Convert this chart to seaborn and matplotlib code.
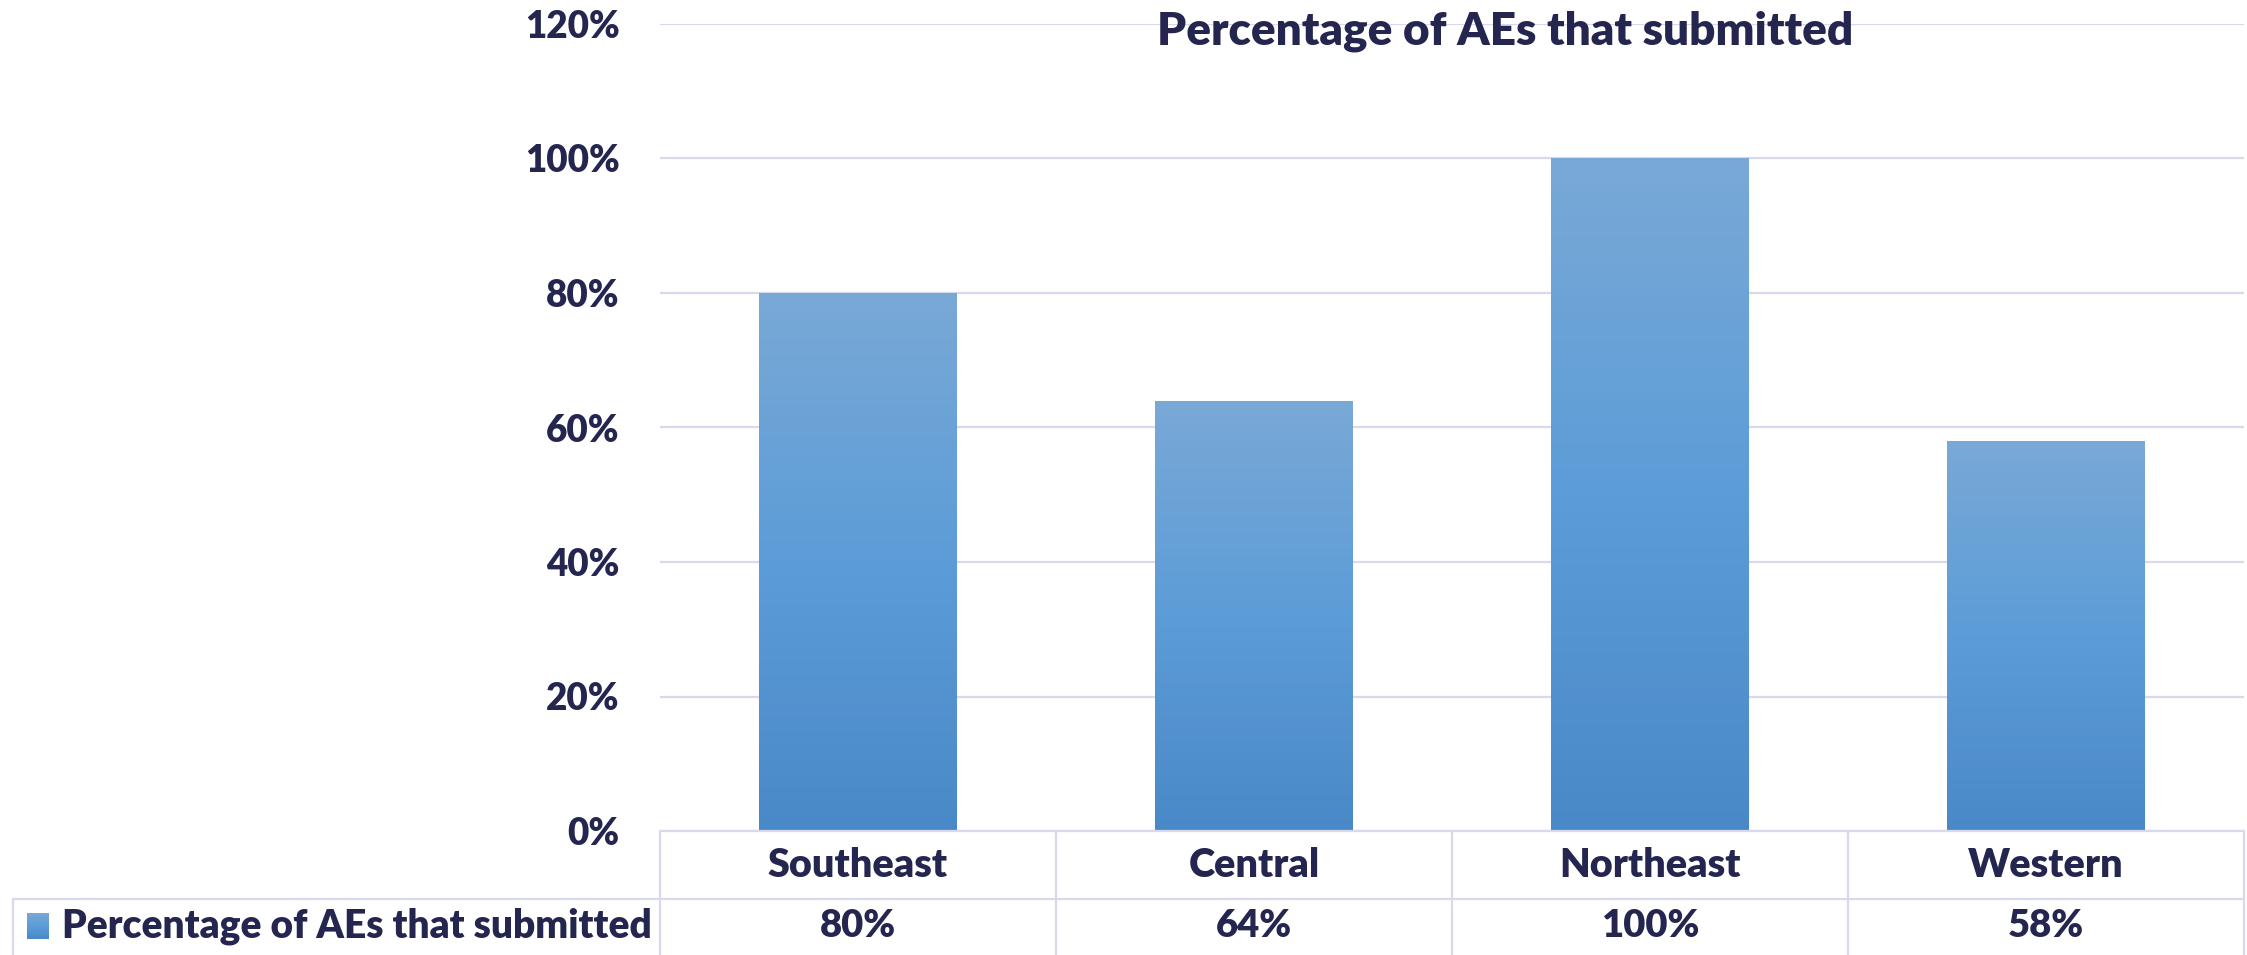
import numpy as np
import pandas as pd
import seaborn as sns
from matplotlib import pyplot as plt
from matplotlib import transforms
from matplotlib.lines import Line2D
from matplotlib.colors import LinearSegmentedColormap
from matplotlib.ticker import PercentFormatter

# data
regions = ['Southeast', 'Central', 'Northeast', 'Western']
submitted = [0.80, 0.64, 1.00, 0.58]
submitted_labels = ['80%', '64%', '100%', '58%']
series_name = 'Percentage of AEs that submitted'
y_ticks = [0, 0.2, 0.4, 0.6, 0.8, 1.0, 1.2]

W, H = 2247, 955
TEXT = '#24264f'
GRID = '#d9d9ee'
FONT = ['Lato', 'Open Sans', 'DejaVu Sans']

sns.set_style('white')
plt.rcParams['font.family'] = FONT
plt.rcParams['font.weight'] = 'heavy'

# excel style gradient, dark at the bottom, light at the top
grad_cmap = LinearSegmentedColormap.from_list('bar', ['#4a89c7', '#5c9cd8', '#79a9d6'])
grad = np.linspace(0, 1, 256).reshape(-1, 1)

df = pd.DataFrame({'Region': regions, 'Value': submitted})

fig = plt.figure(figsize=(W / 100, H / 100), dpi=100)
ax = fig.add_axes([660 / W, 1 - 831 / H, (2244 - 660) / W, (831 - 24) / H])

sns.barplot(data=df, x='Region', y='Value', color='#5b9bd5', width=0.5, ax=ax, zorder=3)

# paint the gradient into each bar
for p in ax.patches:
    x, y = p.get_x(), p.get_y()
    w, h = p.get_width(), p.get_height()
    im = ax.imshow(grad, extent=[x, x + w, y, y + h], origin='lower', aspect='auto',
                   cmap=grad_cmap, zorder=3)
    im.set_clip_path(p)
    p.set_facecolor('none')
    p.set_edgecolor('none')

ax.set_xlim(-0.5, len(regions) - 0.5)
ax.set_ylim(0, 1.2)
ax.set_yticks(y_ticks)
ax.yaxis.set_major_formatter(PercentFormatter(1.0, decimals=0))
ax.tick_params(axis='y', length=0, pad=29, labelsize=26.5, labelcolor=TEXT)
for t in ax.get_yticklabels():
    t.set_fontweight('heavy')
ax.set_xticks([])
ax.set_xlabel('')
ax.set_ylabel('')
ax.grid(axis='y', color=GRID, lw=1.6, zorder=0)
ax.set_axisbelow(True)
for s in ax.spines.values():
    s.set_visible(False)

# title sits inside the plot area, over the top gridline
fig.text(1505 / W, 1 - 31 / H, series_name, ha='center', va='center',
         fontsize=33, color=TEXT, fontweight='heavy')

# data table under the chart
bt = transforms.blended_transform_factory(ax.transData, fig.transFigure)
row1 = 1 - 831 / H
row2 = 1 - 899 / H
for i, (r, v) in enumerate(zip(regions, submitted_labels)):
    ax.text(i, 1 - 865 / H, r, transform=bt, ha='center', va='center',
            fontsize=28.5, color=TEXT, fontweight='heavy', clip_on=False)
    ax.text(i, 1 - 926 / H, v, transform=bt, ha='center', va='center',
            fontsize=27.5, color=TEXT, fontweight='heavy', clip_on=False)

for b in np.arange(-0.5, len(regions), 1.0):
    fig.add_artist(Line2D([b, b], [row1, 0], transform=bt, color=GRID, lw=1.6))
fig.add_artist(Line2D([660 / W, 2244 / W], [row1, row1], transform=fig.transFigure,
                      color=GRID, lw=1.6))
fig.add_artist(Line2D([13 / W, 2244 / W], [row2, row2], transform=fig.transFigure,
                      color=GRID, lw=1.6))
fig.add_artist(Line2D([13 / W, 13 / W], [row2, 0], transform=fig.transFigure,
                      color=GRID, lw=1.6))

# legend key in the table row
kax = fig.add_axes([27 / W, 1 - 939 / H, 22 / W, 26 / H])
kax.imshow(grad, origin='lower', aspect='auto', cmap=grad_cmap)
kax.axis('off')
fig.text(62 / W, 1 - 926 / H, series_name, ha='left', va='center',
         fontsize=28, color=TEXT, fontweight='heavy')

fig.savefig('out.png', dpi=100)
